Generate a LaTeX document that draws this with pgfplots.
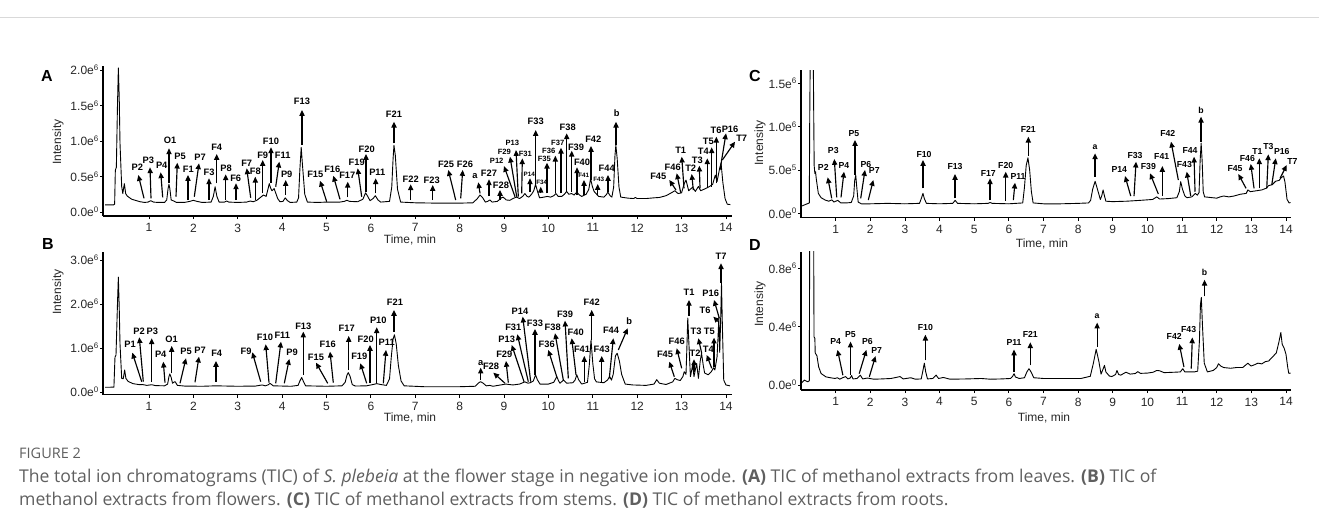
\documentclass[border=0pt]{standalone}
\usepackage{fontspec}
\setmainfont{Liberation Sans}
\newfontfamily\capfont{Open Sans}
\usepackage{pgfplots}
\pgfplotsset{compat=1.18}
\usetikzlibrary{arrows.meta}
\definecolor{capg}{RGB}{95,95,95}

\newcommand{\md}{\fontsize{7.6}{8}\selectfont}
\newcommand{\sm}{\fontsize{6.3}{7}\selectfont}
% peak annotation: label, tail x,y, head x,y, label x,y (picture pixels, converted to axis units)
\newcommand{\pk}[7]{%
  \draw[arr] ({(#2-\xo)/\xs},{(\yo-#3)/\ys}) -- ({(#4-\xo)/\xs},{(\yo-#5)/\ys});
  \node[lab] at ({(#6-\xo)/\xs},{(\yo-#7)/\ys}) {#1};}

\tikzset{arr/.style={line width=1.15pt,-{Triangle[length=5.8pt,width=5.2pt]}}}

\pgfplotsset{tic/.style={
  scale only axis, anchor=south west, clip mode=individual,
  axis x line=bottom, axis y line=left,
  axis line style={line width=1.2pt,-},
  every tick/.style={line width=0.8pt,black},
  tick align=outside, major tick length=3pt,
  xtick={1,...,14},
  xticklabels={1,2,3,4,5,6,7,8,9,10,11,12,13,14},
  tick label style={font=\fontsize{12}{14}\selectfont, text=black!85},
  yticklabel style={inner sep=1pt},
  xticklabel style={inner sep=2pt, yshift=-2.5pt},
}}

\begin{document}
\begin{tikzpicture}[x=1pt,y=1pt]
\useasboundingbox (0,0) rectangle (1319,531);
\draw[black!15, line width=0.8pt] (0,514) -- (1319,514);

% ---------------- A: leaves
\def\xo{104.6}\def\xs{44.38}\def\yo{212}\def\ys{71}
\tikzset{lab/.style={font=\bfseries\fontsize{9.3}{10}\selectfont, inner sep=0pt}}
\begin{axis}[tic, at={(103pt,315pt)}, width=628.7pt, height=149.5pt,
  xmin=-0.036, xmax=14.13, ymin=-0.056, ymax=2.05,
  ytick={0,0.5,1,1.5,2},
  yticklabels={0.0e\textsuperscript{0},0.5e\textsuperscript{6},1.0e\textsuperscript{6},1.5e\textsuperscript{6},2.0e\textsuperscript{6}}]
\addplot[black, line width=0.9pt, line join=round] coordinates {
(0.01,0.10)(0.20,0.10)(0.226,0.11)(0.242,0.59)(0.265,0.63)(0.29,1.5)(0.31,2.03)(0.33,1.6)(0.347,0.97)(0.385,0.36)(0.41,0.26)(0.445,0.40)(0.475,0.26)(0.51,0.225)(0.61,0.18)(0.80,0.145)(0.9,0.135)
(0.98,0.14)(1.04,0.16)(1.10,0.14)(1.2,0.135)(1.35,0.135)(1.40,0.17)(1.43,0.33)(1.45,0.39)(1.47,0.33)(1.50,0.17)(1.56,0.155)(1.62,0.135)(1.8,0.135)(1.92,0.15)(2.0,0.165)(2.08,0.15)(2.2,0.135)(2.40,0.14)(2.45,0.22)(2.49,0.355)(2.53,0.22)(2.58,0.14)(2.7,0.14)(2.75,0.155)(2.8,0.14)(3.0,0.135)(3.2,0.14)(3.28,0.155)(3.35,0.145)(3.43,0.165)(3.50,0.2)(3.58,0.24)(3.64,0.22)(3.68,0.32)(3.71,0.40)(3.74,0.34)(3.77,0.30)(3.82,0.33)(3.86,0.26)(3.90,0.19)(3.95,0.145)(4.02,0.15)(4.07,0.20)(4.12,0.16)(4.18,0.135)(4.33,0.14)(4.37,0.2)(4.40,0.6)(4.43,0.91)(4.46,0.65)(4.51,0.25)(4.57,0.14)(4.8,0.135)(5.0,0.14)(5.3,0.14)(5.40,0.15)(5.46,0.165)(5.52,0.15)(5.7,0.145)(5.82,0.18)(5.88,0.27)(5.93,0.22)(5.98,0.16)(6.05,0.19)(6.10,0.23)(6.16,0.17)(6.22,0.14)(6.42,0.15)(6.47,0.35)(6.50,0.75)(6.52,0.94)(6.55,0.80)(6.60,0.32)(6.67,0.14)(7.0,0.13)(7.5,0.125)(8.0,0.125)(8.3,0.13)(8.40,0.19)(8.46,0.24)(8.52,0.2)(8.58,0.14)(8.63,0.15)(8.68,0.17)(8.73,0.14)(8.85,0.15)(8.94,0.20)(8.98,0.21)(9.05,0.17)(9.13,0.165)(9.2,0.19)(9.28,0.21)(9.35,0.19)(9.42,0.22)(9.47,0.26)(9.52,0.22)(9.56,0.21)(9.62,0.25)(9.67,0.3)(9.71,0.39)(9.75,0.30)(9.80,0.20)(9.9,0.21)(9.97,0.22)(10.05,0.21)(10.12,0.23)(10.17,0.26)(10.22,0.22)(10.30,0.22)(10.36,0.25)(10.41,0.29)(10.46,0.25)(10.52,0.26)(10.58,0.24)(10.64,0.28)(10.70,0.24)(10.75,0.22)(10.85,0.25)(10.91,0.32)(10.95,0.47)(10.99,0.36)(11.03,0.29)(11.13,0.22)(11.25,0.21)(11.30,0.24)(11.34,0.28)(11.39,0.23)(11.43,0.21)(11.47,0.35)(11.50,0.80)(11.52,0.94)(11.55,0.75)(11.59,0.35)(11.63,0.21)(11.8,0.195)(11.92,0.19)(11.96,0.205)(12.0,0.19)(12.2,0.19)(12.38,0.20)(12.5,0.205)(12.65,0.23)(12.74,0.26)(12.85,0.30)(12.92,0.26)(13.0,0.27)(13.06,0.40)(13.10,0.45)(13.16,0.30)(13.25,0.35)(13.31,0.29)(13.38,0.36)(13.43,0.30)(13.54,0.33)(13.63,0.36)(13.70,0.39)(13.76,0.52)(13.80,0.43)(13.86,0.62)(13.89,0.69)(13.93,0.42)(13.98,0.19)(14.03,0.11)(14.1,0.105)
};
\pk{P2}{144.0}{198.3}{138.3}{175}{137.3}{167.3}
\pk{P3}{151}{198.3}{150}{167.3}{148.3}{160}
\pk{P4}{162.7}{197.3}{160.7}{172.3}{161.7}{165.3}
\pk{O1}{169}{183.3}{169}{148.3}{170}{140}
\pk{P5}{176}{196.7}{177.3}{162.7}{180}{156.7}
\pk{F1}{188}{200}{188}{175}{188.3}{169}
\pk{P7}{194.3}{196.7}{199}{163.3}{200}{157.3}
\pk{F3}{209}{200}{209}{178.3}{209}{172.7}
\pk{F4}{216.7}{183.3}{216.7}{154}{216.7}{147.3}
\pk{P8}{225.7}{200}{225.7}{174.3}{226}{168.3}
\pk{F6}{236}{200}{236}{183.3}{235.7}{178.3}
\pk{F7}{250.7}{197.7}{246.7}{168.3}{246.7}{163.3}
\pk{F8}{255.3}{200}{255.3}{176.7}{255.3}{171}
\pk{F9}{262.7}{193.3}{262.7}{160}{262.7}{155}
\pk{F10}{271}{182.7}{271}{147.3}{271}{141.7}
\pk{F11}{275.7}{186.7}{279.3}{161.7}{282.7}{155.7}
\pk{P9}{285.7}{195}{285.7}{180}{286.7}{174.3}
\pk{F13}{302}{145}{302}{110}{302}{101.7}
\pk{F15}{326.7}{201.7}{320}{180.7}{315.3}{174.3}
\pk{F16}{340}{199.3}{333.3}{175.7}{332.3}{169}
\pk{F17}{347.7}{197.3}{347.7}{181.7}{347.3}{175.7}
\pk{F19}{361.7}{196.7}{357.7}{168.3}{356.7}{162.7}
\pk{F20}{366}{191.7}{366}{154}{366.7}{149}
\pk{P11}{375.7}{193.3}{375.7}{178.3}{377.3}{172.7}
\pk{F21}{394}{143.3}{394}{121.7}{394}{114.3}
\pk{F22}{410.7}{200}{410.7}{184.3}{410.7}{179.3}
\pk{F23}{432.7}{200}{432.7}{185}{431.7}{180}
\pk{F25}{455.7}{200}{448.3}{170}{446}{164}
\pk{F26}{460.7}{198.3}{462.7}{170}{465}{164}
\pk{a}{480}{193.3}{478.3}{182.3}{475}{176}
\pk{F27}{489}{196}{489}{179.3}{489}{173.3}
\pk{F28}{500}{200}{500}{190}{501}{185}
\pk{\md P12}{515}{196.7}{504}{166}{496.7}{160.7}
\pk{\md F29}{516.7}{196.7}{510}{156.7}{504.3}{151.7}
\pk{\md P13}{518.3}{196.7}{516}{150}{512.3}{143.3}
\pk{\md F31}{521.7}{193.3}{522.3}{158.3}{525.3}{153.7}
\pk{\sm P14}{530}{191.7}{530}{178.3}{529.3}{174.3}
\pk{F33}{535.7}{185}{535.7}{130}{535.7}{121.7}
\pk{\sm F34}{540.7}{193.3}{540.7}{186.7}{541.7}{182}
\pk{\md F35}{547}{193.3}{547}{162.7}{544.3}{158.7}
\pk{\md F36}{555.3}{193.3}{555.3}{155.7}{548.7}{150.7}
\pk{\md F37}{561}{193.3}{561}{147.7}{557.7}{142.7}
\pk{F38}{566.7}{191.7}{566.7}{133.3}{567.7}{127.7}
\pk{F39}{571.7}{191.7}{571.7}{150.7}{576}{147.3}
\pk{F40}{577}{195}{577}{167.3}{582}{162.7}
\pk{\sm F41}{584}{195}{584}{180}{583.7}{175.3}
\pk{F42}{591}{180}{591}{146}{593.3}{139.3}
\pk{\sm F43}{597.7}{195}{597.7}{184}{598.7}{179.3}
\pk{F44}{608}{191.7}{608}{175}{606.7}{168.7}
\pk{b}{616}{145}{616}{121.7}{616.7}{113.3}
\pk{F45}{676}{190}{669.3}{180}{658.3}{176}
\pk{F46}{680.7}{192.7}{676.7}{173.3}{672.7}{167.7}
\pk{T1}{684}{188.3}{681.7}{156.7}{680.7}{150.7}
\pk{T2}{693.3}{190}{691.7}{174}{690.7}{168.3}
\pk{T3}{700}{188.3}{699.3}{165.7}{697.3}{160}
\pk{T4}{707.3}{188.3}{707.3}{158.3}{703.3}{151.7}
\pk{T5}{711.7}{186.7}{711.7}{147.3}{708.3}{141.7}
\pk{T6}{716.3}{183.3}{716.3}{136.7}{716}{130.7}
\pk{P16}{720}{170}{726}{133.3}{730}{129.3}
\pk{T7}{722.3}{160}{735}{141.7}{741.7}{138.3}
\end{axis}

% ---------------- B: flowers
\def\xo{104.6}\def\xs{44.38}\def\yo{392}\def\ys{44}
\begin{axis}[tic, at={(103pt,136.5pt)}, width=628.7pt, height=142.5pt,
  xmin=-0.036, xmax=14.13, ymin=-0.057, ymax=3.18,
  ytick={0,1,2,3},
  yticklabels={0.0e\textsuperscript{0},1.0e\textsuperscript{6},2.0e\textsuperscript{6},3.0e\textsuperscript{6}}]
\addplot[black, line width=0.9pt, line join=round] coordinates {
(0.01,0.107)(0.21,0.11)(0.234,0.79)(0.257,0.84)(0.29,2.0)(0.31,2.61)(0.33,1.9)(0.347,1.1)(0.385,0.31)(0.42,0.30)(0.452,0.50)(0.48,0.31)(0.53,0.24)(0.64,0.19)(0.79,0.165)(0.85,0.17)(0.95,0.15)(1.06,0.165)(1.15,0.145)(1.35,0.14)(1.42,0.18)(1.45,0.35)(1.47,0.41)(1.50,0.33)(1.53,0.20)(1.56,0.22)(1.59,0.235)(1.64,0.15)(1.8,0.135)(2.2,0.13)(2.5,0.14)(3.0,0.13)(3.4,0.135)(3.55,0.16)(3.62,0.14)(3.68,0.16)(3.73,0.195)(3.80,0.14)(4.2,0.13)(4.36,0.15)(4.40,0.25)(4.44,0.33)(4.48,0.24)(4.53,0.14)(5.0,0.13)(5.35,0.14)(5.42,0.22)(5.46,0.38)(5.49,0.44)(5.53,0.36)(5.58,0.17)(5.65,0.135)(5.9,0.14)(6.05,0.17)(6.13,0.19)(6.22,0.17)(6.35,0.15)(6.42,0.3)(6.46,0.8)(6.50,1.2)(6.53,1.3)(6.57,1.1)(6.62,0.6)(6.68,0.25)(6.75,0.14)(7.2,0.12)(8.0,0.12)(8.35,0.13)(8.42,0.2)(8.47,0.235)(8.53,0.2)(8.6,0.14)(8.68,0.15)(8.75,0.13)(9.04,0.18)(9.2,0.16)(9.35,0.18)(9.47,0.23)(9.54,0.2)(9.59,0.21)(9.66,0.25)(9.71,0.39)(9.75,0.28)(9.81,0.18)(10.0,0.18)(10.12,0.22)(10.19,0.35)(10.23,0.25)(10.26,0.2)(10.34,0.27)(10.41,0.2)(10.55,0.21)(10.60,0.27)(10.64,0.39)(10.68,0.28)(10.75,0.18)(10.88,0.22)(10.92,0.6)(10.96,1.18)(11.0,0.65)(11.04,0.3)(11.08,0.23)(11.25,0.21)(11.33,0.27)(11.38,0.35)(11.42,0.27)(11.46,0.4)(11.51,0.82)(11.55,0.88)(11.60,0.7)(11.65,0.4)(11.73,0.18)(11.9,0.16)(12.2,0.15)(12.38,0.18)(12.44,0.28)(12.5,0.2)(12.65,0.17)(12.8,0.23)(12.85,0.31)(12.9,0.28)(12.97,0.26)(13.03,0.35)(13.06,0.46)(13.10,0.40)(13.12,1.0)(13.14,1.68)(13.17,1.0)(13.2,0.35)(13.25,0.61)(13.28,0.35)(13.34,0.65)(13.38,0.31)(13.42,0.7)(13.45,0.88)(13.49,0.6)(13.52,0.43)(13.6,0.39)(13.67,0.46)(13.72,0.55)(13.75,0.5)(13.8,0.80)(13.82,1.2)(13.84,1.70)(13.86,0.9)(13.88,1.6)(13.90,2.47)(13.92,1.5)(13.95,0.27)(14.0,0.16)(14.09,0.14)
};
\pk{P1}{141.7}{381.7}{132.3}{352.7}{130}{344.3}
\pk{P2}{143.3}{381.7}{139.3}{337.3}{139}{331}
\pk{P3}{151.7}{381.7}{151.7}{338.3}{152.3}{331.7}
\pk{P4}{165}{382.7}{163.3}{361.7}{160.7}{354.3}
\pk{O1}{171.7}{373.3}{171.7}{346}{171.7}{339.3}
\pk{P5}{180}{383.3}{186}{358.3}{186}{351.7}
\pk{P7}{195}{382.3}{199}{356.7}{200}{350.7}
\pk{F4}{216}{381.7}{216}{361}{216.7}{353.3}
\pk{F9}{260.7}{381.7}{252.3}{352.3}{246}{351}
\pk{F10}{269}{382.7}{265.7}{344.3}{265}{337.3}
\pk{F11}{275.7}{383.3}{281}{341.7}{282.3}{335.3}
\pk{P9}{284.3}{383.3}{289.3}{359}{292}{352.7}
\pk{F13}{303.3}{375}{303.3}{331.7}{303.3}{326}
\pk{F15}{327.7}{383.3}{316}{362.7}{316}{357.7}
\pk{F16}{333.3}{382.7}{330}{351.7}{327.7}{344}
\pk{F17}{348.7}{370}{348.7}{336}{346.7}{328}
\pk{F19}{366.7}{383.3}{360.3}{363.3}{359.3}{356}
\pk{F20}{370}{382.7}{370}{345}{365.7}{339.3}
\pk{P10}{376.7}{383.3}{376.7}{327.3}{378.3}{320.7}
\pk{P11}{383.3}{383.3}{386}{350}{386.7}{342.7}
\pk{F21}{394}{331.7}{394}{310}{395}{302.7}
\pk{a}{480.7}{380}{480.7}{367.7}{480.7}{362.7}
\pk{F28}{505}{383.3}{493.3}{372.7}{491}{366}
\pk{F29}{508.3}{382.7}{506}{361}{504.3}{354.3}
\pk{P13}{524}{381.7}{511.7}{345}{506.7}{339.3}
\pk{F31}{528.3}{381.7}{517.3}{334.3}{513.3}{327.7}
\pk{P14}{530.7}{381.7}{522.7}{316.7}{520}{311}
\pk{F33}{535}{375}{535}{329}{535}{323.3}
\pk{F36}{556.7}{376.7}{548.3}{350}{546.7}{344.3}
\pk{F38}{563.3}{380}{555}{333.3}{552.7}{327.7}
\pk{F39}{568.3}{378.3}{565}{320.7}{565}{314.3}
\pk{F40}{576}{375}{571.7}{338.3}{575.7}{332.7}
\pk{F41}{584.3}{381.7}{584.3}{356}{582}{349.3}
\pk{F42}{591.7}{340}{591.7}{310}{591.7}{302.7}
\pk{F43}{601.7}{381.7}{601.7}{356}{601.7}{349.3}
\pk{F44}{609.3}{378.3}{613.3}{338.3}{611}{330.7}
\pk{b}{618.3}{350}{627.7}{328.3}{629.3}{321}
\pk{F45}{674.3}{376.7}{669.3}{361.7}{665}{354}
\pk{F46}{681.7}{368.3}{676.7}{348.3}{676.7}{341.7}
\pk{T1}{689}{316}{689}{300}{689}{292.7}
\pk{T2}{694}{371.7}{694}{359.3}{695}{353.3}
\pk{T3}{701.7}{353.3}{698.3}{338.3}{696}{331}
\pk{T4}{711.7}{368.3}{706.7}{355}{708.3}{349.3}
\pk{T5}{714}{366.7}{714}{337.7}{709.3}{331}
\pk{T6}{718.3}{321.7}{713.3}{316.7}{705}{310}
\pk{P16}{719.3}{318.3}{714}{300}{710.7}{293.3}
\pk{T7}{721}{283.3}{721}{263.3}{721}{256}
\end{axis}

% ---------------- C: stems
\def\xo{801}\def\xs{34.64}\def\yo{213.3}\def\ys{86.7}
\tikzset{lab/.style={font=\bfseries\fontsize{8.7}{9}\selectfont, inner sep=0pt}}
\begin{axis}[tic, at={(801pt,313.5pt)}, width=489.5pt, height=147.5pt,
  xmin=0, xmax=14.13, ymin=-0.048, ymax=1.653,
  ytick={0,0.5,1,1.5},
  yticklabels={0.0e\textsuperscript{0},5.0e\textsuperscript{5},1.0e\textsuperscript{6},1.5e\textsuperscript{6}}]
\addplot[black, line width=0.9pt, line join=round] coordinates {
(0.0,0.08)(0.115,0.10)(0.21,0.115)(0.24,0.12)(0.25,1.0)(0.27,2.0)(0.31,2.5)(0.35,2.0)(0.37,1.0)(0.38,0.55)(0.40,0.46)(0.42,0.48)(0.44,0.40)(0.5,0.23)(0.58,0.18)(0.7,0.153)(0.8,0.14)(0.89,0.155)(0.95,0.13)(1.06,0.15)(1.15,0.12)(1.3,0.12)(1.45,0.125)(1.52,0.2)(1.55,0.38)(1.58,0.44)(1.61,0.3)(1.65,0.13)(1.74,0.11)(2.0,0.11)(2.5,0.115)(3.0,0.11)(3.42,0.115)(3.48,0.18)(3.52,0.23)(3.56,0.17)(3.62,0.115)(4.0,0.11)(4.38,0.115)(4.45,0.15)(4.52,0.115)(5.0,0.11)(5.4,0.115)(5.46,0.125)(5.52,0.115)(6.0,0.11)(6.2,0.115)(6.40,0.12)(6.45,0.3)(6.50,0.55)(6.55,0.64)(6.60,0.5)(6.65,0.25)(6.70,0.12)(7.0,0.11)(7.5,0.11)(8.0,0.115)(8.3,0.12)(8.36,0.15)(8.42,0.28)(8.49,0.37)(8.57,0.26)(8.64,0.16)(8.68,0.2)(8.72,0.27)(8.76,0.2)(8.80,0.14)(9.0,0.135)(9.4,0.14)(9.8,0.15)(10.15,0.16)(10.27,0.19)(10.35,0.165)(10.6,0.17)(10.85,0.18)(10.92,0.25)(10.96,0.365)(11.01,0.28)(11.08,0.2)(11.14,0.18)(11.28,0.19)(11.38,0.23)(11.44,0.21)(11.49,0.24)(11.52,0.6)(11.55,0.81)(11.58,0.6)(11.61,0.25)(11.65,0.19)(12.0,0.175)(12.1,0.19)(12.2,0.2)(12.35,0.19)(12.5,0.2)(12.68,0.22)(12.85,0.23)(12.9,0.27)(12.97,0.25)(13.14,0.26)(13.3,0.27)(13.43,0.29)(13.5,0.32)(13.6,0.33)(13.7,0.37)(13.8,0.38)(13.86,0.41)(13.93,0.43)(13.97,0.36)(14.03,0.16)(14.09,0.12)(14.13,0.125)
};
\pk{P2}{831.7}{198.3}{827.7}{177.3}{823.3}{167.3}
\pk{P3}{836.7}{197.3}{834.3}{159}{833.3}{150.7}
\pk{P4}{841}{197.3}{844}{171.7}{844}{165}
\pk{P5}{855}{175}{855}{140}{854}{134}
\pk{P6}{860.7}{198.3}{865}{170}{866}{164}
\pk{P7}{868.3}{200}{873.3}{180}{874.3}{170.7}
\pk{F10}{923}{188.3}{923}{160}{924}{154}
\pk{F13}{955}{198.3}{955}{174}{955}{166}
\pk{F17}{990}{200}{990}{178.3}{988.3}{173.3}
\pk{F20}{1005.7}{200.7}{1005.7}{171.7}{1005.7}{165}
\pk{P11}{1013.3}{200}{1015}{182.7}{1018}{176}
\pk{F21}{1028.3}{156}{1028.3}{136.7}{1028.3}{129}
\pk{a}{1095}{176.7}{1095}{153.3}{1095}{146.7}
\pk{P14}{1130.7}{196}{1125}{176}{1119.3}{169}
\pk{F33}{1134}{196}{1136}{161.7}{1135}{155.7}
\pk{F39}{1158.3}{194}{1150}{173.3}{1148.3}{166}
\pk{F41}{1162.3}{196}{1162.3}{166}{1161.7}{156.7}
\pk{F42}{1178.3}{180}{1171}{141.7}{1167.7}{133.3}
\pk{F43}{1190.7}{196}{1186.7}{171.7}{1184.3}{164}
\pk{F44}{1195}{191.7}{1194}{156.7}{1190}{150.7}
\pk{b}{1201}{141.7}{1201}{116.7}{1201}{110.7}
\pk{F45}{1246}{188.3}{1238.3}{174}{1235}{168.3}
\pk{F46}{1254}{188.3}{1250.7}{164}{1247.3}{158.3}
\pk{T1}{1259.3}{188.3}{1259.3}{158.3}{1257.3}{151}
\pk{T3}{1266.7}{188.3}{1268.3}{154.3}{1268.3}{146}
\pk{P16}{1271.7}{185}{1275.7}{158.3}{1281.7}{151.7}
\pk{T7}{1280}{178.3}{1286.7}{165}{1292.3}{161.7}
\end{axis}

% ---------------- D: roots
\def\xo{801}\def\xs{34.64}\def\yo{385}\def\ys{145.8}
\begin{axis}[tic, at={(801pt,141pt)}, width=489.5pt, height=138.3pt,
  xmin=0, xmax=14.13, ymin=-0.034, ymax=0.914,
  ytick={0,0.4,0.8},
  yticklabels={0.0e\textsuperscript{0},0.4e\textsuperscript{6},0.8e\textsuperscript{6}}]
\addplot[black, line width=0.9pt, line join=round] coordinates {
(0.02,0.015)(0.094,0.034)(0.198,0.022)(0.24,0.03)(0.25,1.0)(0.27,2.0)(0.31,2.2)(0.35,2.0)(0.365,1.0)(0.376,0.33)(0.40,0.32)(0.41,0.22)(0.46,0.2)(0.51,0.124)(0.58,0.079)(0.72,0.056)(0.85,0.05)(0.98,0.045)(1.05,0.05)(1.12,0.04)(1.2,0.05)(1.29,0.058)(1.35,0.042)(1.42,0.048)(1.46,0.065)(1.5,0.042)(1.62,0.045)(1.71,0.068)(1.78,0.042)(1.92,0.048)(2.1,0.04)(2.34,0.042)(2.6,0.045)(2.86,0.058)(2.95,0.042)(3.17,0.05)(3.3,0.04)(3.47,0.042)(3.52,0.1)(3.56,0.15)(3.60,0.09)(3.65,0.042)(3.8,0.045)(3.90,0.068)(3.97,0.045)(4.11,0.052)(4.3,0.04)(4.8,0.042)(5.2,0.045)(5.47,0.04)(5.8,0.042)(6.05,0.045)(6.11,0.06)(6.15,0.078)(6.19,0.055)(6.3,0.045)(6.45,0.05)(6.52,0.09)(6.58,0.112)(6.64,0.09)(6.72,0.05)(7.0,0.045)(7.5,0.045)(8.08,0.045)(8.35,0.06)(8.44,0.15)(8.52,0.245)(8.60,0.16)(8.66,0.075)(8.72,0.11)(8.76,0.135)(8.80,0.09)(8.9,0.062)(8.97,0.058)(9.08,0.072)(9.12,0.1)(9.17,0.072)(9.23,0.068)(9.32,0.08)(9.38,0.088)(9.5,0.075)(9.65,0.079)(9.72,0.092)(9.8,0.08)(10.0,0.082)(10.17,0.088)(10.27,0.1)(10.35,0.098)(10.48,0.085)(10.79,0.088)(10.95,0.09)(11.02,0.112)(11.08,0.09)(11.21,0.09)(11.35,0.09)(11.45,0.095)(11.5,0.3)(11.53,0.55)(11.555,0.60)(11.59,0.4)(11.64,0.15)(11.73,0.09)(11.9,0.1)(12.0,0.12)(12.05,0.146)(12.12,0.13)(12.2,0.12)(12.4,0.115)(12.57,0.12)(12.75,0.12)(12.85,0.14)(12.9,0.15)(12.99,0.13)(13.1,0.14)(13.19,0.15)(13.3,0.145)(13.4,0.16)(13.5,0.165)(13.56,0.18)(13.64,0.2)(13.72,0.22)(13.80,0.3)(13.85,0.36)(13.89,0.28)(13.95,0.25)(14.0,0.21)(14.05,0.12)(14.08,0.08)(14.13,0.082)
};
\pk{P4}{842.9}{375.2}{837.5}{349.9}{835.7}{341.6}
\pk{P5}{850.5}{375.2}{850.5}{341.6}{850.5}{334.1}
\pk{P6}{859.2}{373.6}{866.4}{349.9}{867.5}{341.6}
\pk{P7}{869.3}{376.8}{875.5}{356.1}{876.6}{350.5}
\pk{F10}{925.4}{360.4}{925.4}{334.7}{925.4}{327.5}
\pk{P11}{1014}{371.9}{1014}{349.5}{1014}{342.3}
\pk{F21}{1030.3}{365.3}{1030.3}{342.3}{1030.3}{334.7}
\pk{a}{1097.1}{347.2}{1097.1}{322.6}{1097.1}{316}
\pk{F42}{1183.9}{367}{1179.2}{343.9}{1174.2}{336.7}
\pk{F43}{1191.2}{368.6}{1192.3}{337.4}{1188.6}{329.1}
\pk{b}{1204.5}{296.3}{1204.5}{279.8}{1204.5}{272.2}
\end{axis}

% axis titles and panel letters
\begin{scope}[every node/.style={font=\fontsize{12}{14}\selectfont, text=black!85, inner sep=0pt}]
\node[rotate=90] at (58,389) {Intensity};
\node[rotate=90] at (58,239) {Intensity};
\node[rotate=90] at (760,388) {Intensity};
\node[rotate=90] at (760,227) {Intensity};
\node at (410,291) {Time, min};
\node at (410,113) {Time, min};
\node at (1042,287) {Time, min};
\node at (1044,113) {Time, min};
\end{scope}
\begin{scope}[every node/.style={font=\bfseries\fontsize{16}{18}\selectfont, inner sep=0pt}]
\node at (47,455) {A};
\node at (48,287) {B};
\node at (755,455) {C};
\node at (755,286) {D};
\end{scope}

% caption
\node[anchor=west, inner sep=0pt, text=capg, font=\capfont\fontsize{14.5}{16}\selectfont] at (19,78) {FIGURE 2};
\node[anchor=west, inner sep=0pt, text=capg, font=\capfont\fontsize{17.6}{20}\selectfont] at (19,53)
 {The total ion chromatograms (TIC) of \textit{S. plebeia} at the flower stage in negative ion mode. \textbf{(A)} TIC of methanol extracts from leaves. \textbf{(B)} TIC of};
\node[anchor=west, inner sep=0pt, text=capg, font=\capfont\fontsize{17.6}{20}\selectfont] at (19,31)
 {methanol extracts from flowers. \textbf{(C)} TIC of methanol extracts from stems. \textbf{(D)} TIC of methanol extracts from roots.};
\end{tikzpicture}
\end{document}
